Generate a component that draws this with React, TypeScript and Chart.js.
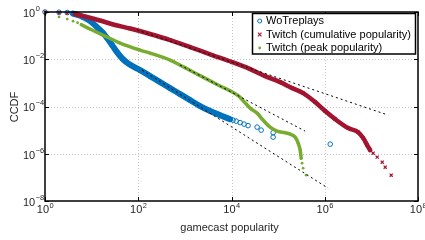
import React, { useEffect, useRef } from "react";
import { Chart, registerables } from "chart.js";
Chart.register(...registerables);

const BLUE = "#0072BD";
const RED = "#A2142F";
const GREEN = "#77AC30";
const FONT = '"Liberation Sans", Arial, sans-serif';

const xTickExps = [0, 2, 4, 6, 8];
const yTickExps = [0, -2, -4, -6, -8];
const xTitle = "gamecast popularity";
const yTitle = "CCDF";
const legendLabels = ["WoTreplays", "Twitch (cumulative popularity)", "Twitch (peak popularity)"];

// WoTreplays
const wotBandX = [4, 5.1, 6.5, 9.2, 13, 17.6, 21.4, 27.4, 35, 47, 67, 109, 179, 294, 481, 789, 1294, 2120, 3475, 5690, 9330];
const wotBandY = [0.86, 0.75, 0.61, 0.42, 0.23, 0.129, 0.079, 0.04, 0.02, 0.01, 0.0058, 0.0035, 0.00194, 0.00108, 6.0e-4, 3.35e-4, 1.87e-4, 1.04e-4, 6.4e-5, 4.3e-5, 2.9e-5];
const wotPointX = [1, 2, 3, 10800, 12600, 15300, 18600, 22700, 35400, 43200, 78100, 78100, 1.31e6];
const wotPointY = [1, 0.98, 0.95, 2.65e-5, 2.4e-5, 2.08e-5, 1.8e-5, 1.55e-5, 1.34e-5, 1.0e-5, 7.8e-6, 5.05e-6, 2.55e-6];

// Twitch cumulative
const cumBandX = [4.4, 7.2, 15.1, 31.8, 66.7, 179, 481, 1294, 3837, 10300, 25100, 52600, 110400, 200000, 344000, 622000, 1.02e6, 1.67e6, 3.18e6, 5.21e6, 6.67e6, 8.13e6, 9.43e6];
const cumBandY = [0.8, 0.645, 0.436, 0.281, 0.2, 0.117, 0.0651, 0.0329, 0.0151, 0.0076, 0.00384, 0.00194, 0.00108, 6.0e-4, 3.7e-4, 1.54e-4, 6.4e-5, 2.92e-5, 1.22e-5, 8.2e-6, 4.6e-6, 2.31e-6, 1.42e-6];
const cumPointX = [1, 2, 3, 1.09e7, 1.33e7, 1.71e7, 1.98e7, 2.66e7];
const cumPointY = [1, 0.93, 0.88, 1.06e-6, 7.2e-7, 4.4e-7, 2.7e-7, 1.24e-7];

// Twitch peak
const peakBandX = [6, 9.2, 21.4, 40.7, 109, 179, 481, 915, 2120, 4910, 13870, 25100, 35400, 47600, 67300, 95200, 141000, 181000, 232000, 269000, 297000, 312000];
const peakBandY = [0.29, 0.19, 0.0873, 0.0486, 0.0245, 0.0183, 0.00925, 0.00485, 0.00202, 8.5e-4, 2.87e-4, 8.55e-5, 5.25e-5, 2.65e-5, 1.34e-5, 9.1e-6, 7.8e-6, 6.8e-6, 5.05e-6, 2.81e-6, 1.42e-6, 6.5e-7];
const peakPointX = [1, 2, 3, 4, 5, 326000, 344000, 399000];
const peakPointY = [0.85, 0.62, 0.5, 0.41, 0.35, 4.0e-7, 2.45e-7, 1.24e-7];

// power-law fits (dashed)
const fitCumX = [94, 2.29e7];
const fitCumY = [0.1726, 4.33e-5];
const fitPeakX = [789, 379000];
const fitPeakY = [5.68e-3, 9.08e-6];
const fitWotX = [121, 1.18e6];
const fitWotY = [3.48e-3, 3.48e-8];

const pts = (xs: number[], ys: number[]) => xs.map((x, i) => ({ x, y: ys[i] }));

const expStr = (e: number) => (e < 0 ? "\u2212" + Math.abs(e) : String(e));

function drawMarker(ctx: CanvasRenderingContext2D, kind: number, cx: number, cy: number) {
  ctx.save();
  if (kind === 0) {
    ctx.strokeStyle = BLUE;
    ctx.lineWidth = 1;
    ctx.beginPath();
    ctx.arc(cx, cy, 2, 0, Math.PI * 2);
    ctx.stroke();
  } else if (kind === 1) {
    ctx.strokeStyle = RED;
    ctx.lineWidth = 1.1;
    ctx.beginPath();
    ctx.moveTo(cx - 1.8, cy - 1.8);
    ctx.lineTo(cx + 1.8, cy + 1.8);
    ctx.moveTo(cx + 1.8, cy - 1.8);
    ctx.lineTo(cx - 1.8, cy + 1.8);
    ctx.stroke();
  } else {
    ctx.fillStyle = GREEN;
    ctx.beginPath();
    ctx.arc(cx, cy, 1.4, 0, Math.PI * 2);
    ctx.fill();
  }
  ctx.restore();
}

const framePlugin = {
  id: "frame",
  beforeDatasetsDraw(chart: any) {
    const { ctx, chartArea: a, scales } = chart;
    const xs = scales.x, ys = scales.y;
    ctx.save();
    ctx.strokeStyle = "#c4c4c4";
    ctx.lineWidth = 1;
    ctx.setLineDash([1, 2]);
    for (const e of xTickExps) {
      const px = Math.round(xs.getPixelForValue(Math.pow(10, e))) + 0.5;
      if (px <= a.left + 1 || px >= a.right - 1) continue;
      ctx.beginPath();
      ctx.moveTo(px, a.top);
      ctx.lineTo(px, a.bottom);
      ctx.stroke();
    }
    for (const e of yTickExps) {
      const py = Math.round(ys.getPixelForValue(Math.pow(10, e))) + 0.5;
      if (py <= a.top + 1 || py >= a.bottom - 1) continue;
      ctx.beginPath();
      ctx.moveTo(a.left, py);
      ctx.lineTo(a.right, py);
      ctx.stroke();
    }
    ctx.restore();
  },
  afterDraw(chart: any) {
    const { ctx, chartArea: a, scales } = chart;
    const xs = scales.x, ys = scales.y;
    ctx.save();
    // box
    ctx.strokeStyle = "#000";
    ctx.lineWidth = 1.5;
    ctx.strokeRect(a.left, a.top, a.right - a.left, a.bottom - a.top);
    // inner ticks
    ctx.lineWidth = 1;
    const tl = 4;
    for (const e of xTickExps) {
      const px = Math.round(xs.getPixelForValue(Math.pow(10, e))) + 0.5;
      ctx.beginPath();
      ctx.moveTo(px, a.bottom);
      ctx.lineTo(px, a.bottom - tl);
      ctx.moveTo(px, a.top);
      ctx.lineTo(px, a.top + tl);
      ctx.stroke();
    }
    for (const e of yTickExps) {
      const py = Math.round(ys.getPixelForValue(Math.pow(10, e))) + 0.5;
      ctx.beginPath();
      ctx.moveTo(a.left, py);
      ctx.lineTo(a.left + tl, py);
      ctx.moveTo(a.right, py);
      ctx.lineTo(a.right - tl, py);
      ctx.stroke();
    }
    // tick labels
    ctx.fillStyle = "#262626";
    ctx.textBaseline = "alphabetic";
    ctx.textAlign = "left";
    const bigF = `11px ${FONT}`;
    const supF = `7.5px ${FONT}`;
    for (const e of xTickExps) {
      const px = xs.getPixelForValue(Math.pow(10, e));
      ctx.font = bigF;
      const w1 = ctx.measureText("10").width;
      ctx.font = supF;
      const es = expStr(e);
      const w2 = ctx.measureText(es).width;
      const start = px - (w1 + w2) / 2;
      ctx.font = bigF;
      ctx.fillText("10", start, 213);
      ctx.font = supF;
      ctx.fillText(es, start + w1 + 0.5, 207.5);
    }
    for (const e of yTickExps) {
      const py = ys.getPixelForValue(Math.pow(10, e));
      ctx.font = bigF;
      const w1 = ctx.measureText("10").width;
      ctx.fillText("10", 23, py + 4.8);
      ctx.font = supF;
      ctx.fillText(expStr(e), 23 + w1 + 0.5, py - 1.2);
    }
    // titles
    ctx.font = bigF;
    ctx.textAlign = "center";
    ctx.fillText(xTitle, 229.5, 231);
    ctx.save();
    ctx.translate(18.3, 107);
    ctx.rotate(-Math.PI / 2);
    ctx.fillText(yTitle, 0, 0);
    ctx.restore();
    // legend
    ctx.fillStyle = "#fff";
    ctx.fillRect(252.5, 13.5, 163, 40.5);
    ctx.strokeStyle = "#000";
    ctx.lineWidth = 1.5;
    ctx.strokeRect(252.5, 13.5, 163, 40.5);
    ctx.textAlign = "left";
    ctx.font = bigF;
    legendLabels.forEach((lab, i) => {
      const base = 24.3 + i * 13.5;
      drawMarker(ctx, i, 259.7, base - 3.3);
      ctx.fillStyle = "#000";
      ctx.fillText(lab, 266, base);
    });
    ctx.restore();
  },
};

export default function App() {
  const ref = useRef<HTMLCanvasElement>(null);
  useEffect(() => {
    document.body.style.margin = "0";
    const band = (xs: number[], ys: number[], color: string, w: number, order: number) => ({
      data: pts(xs, ys),
      showLine: true,
      borderColor: color,
      backgroundColor: color,
      borderWidth: w,
      borderCapStyle: "round",
      borderJoinStyle: "round",
      pointRadius: 0,
      pointHoverRadius: 0,
      cubicInterpolationMode: "monotone",
      clip: false,
      order,
    });
    const fit = (xs: number[], ys: number[]) => ({
      data: pts(xs, ys),
      showLine: true,
      borderColor: "#000",
      borderWidth: 1,
      borderDash: [2, 3],
      pointRadius: 0,
      pointHoverRadius: 0,
      clip: false,
      order: 0,
    });
    const chart = new Chart(ref.current as HTMLCanvasElement, {
      type: "scatter",
      data: {
        datasets: [
          band(wotBandX, wotBandY, BLUE, 6, 6),
          {
            data: [...pts(wotPointX, wotPointY), ...pts(wotBandX, wotBandY)],
            showLine: false,
            pointStyle: "circle",
            pointRadius: 2.3,
            pointBorderWidth: 1,
            borderColor: BLUE,
            backgroundColor: "rgba(0,0,0,0)",
            pointHoverRadius: 2.3,
            clip: false,
            order: 5,
          },
          band(cumBandX, cumBandY, RED, 4.5, 4),
          {
            data: [...pts(cumPointX, cumPointY), ...pts(cumBandX, cumBandY)],
            showLine: false,
            pointStyle: "crossRot",
            pointRadius: 2.2,
            pointBorderWidth: 1.2,
            borderColor: RED,
            backgroundColor: RED,
            pointHoverRadius: 2.2,
            clip: false,
            order: 3,
          },
          band(peakBandX, peakBandY, GREEN, 3.5, 2),
          {
            data: [...pts(peakPointX, peakPointY), ...pts(peakBandX, peakBandY)],
            showLine: false,
            pointStyle: "circle",
            pointRadius: 1.4,
            pointBorderWidth: 0,
            borderColor: GREEN,
            backgroundColor: GREEN,
            pointHoverRadius: 1.4,
            clip: false,
            order: 1,
          },
          fit(fitCumX, fitCumY),
          fit(fitPeakX, fitPeakY),
          fit(fitWotX, fitWotY),
        ] as any,
      },
      options: {
        animation: false,
        responsive: false,
        devicePixelRatio: 1,
        events: [],
        layout: { padding: { top: 12, right: 7, left: 0, bottom: 0 } },
        plugins: { legend: { display: false }, tooltip: { enabled: false } },
        scales: {
          x: {
            type: "logarithmic",
            min: 1,
            max: 1e8,
            ticks: { display: false },
            grid: { display: false },
            border: { display: false },
            afterFit: (s: any) => {
              s.height = 39;
            },
          },
          y: {
            type: "logarithmic",
            min: 1e-8,
            max: 1,
            ticks: { display: false },
            grid: { display: false },
            border: { display: false },
            afterFit: (s: any) => {
              s.width = 45;
            },
          },
        },
      } as any,
      plugins: [framePlugin as any],
    });
    return () => chart.destroy();
  }, []);
  return (
    <div style={{ width: 425, height: 240 }}>
      <canvas ref={ref} width={425} height={240} style={{ display: "block" }} />
    </div>
  );
}
